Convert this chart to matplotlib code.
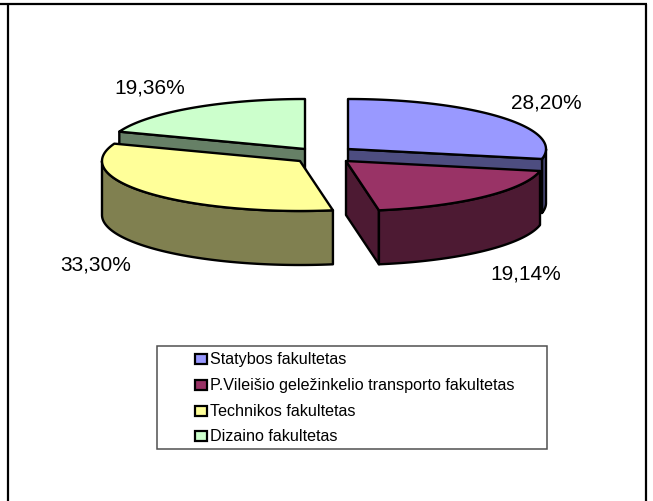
import numpy as np
import matplotlib.pyplot as plt
from matplotlib.patches import Polygon, Rectangle

plt.rcParams['font.family'] = ['Liberation Sans', 'DejaVu Sans']

categories = ['Statybos fakultetas', 'P.Vileišio geležinkelio transporto fakultetas',
              'Technikos fakultetas', 'Dizaino fakultetas']
values = [28.20, 19.14, 33.30, 19.36]
value_labels = ['28,20%', '19,14%', '33,30%', '19,36%']

top_colors = ['#9999FF', '#993366', '#FFFF99', '#CCFFCC']
side_colors = ['#4D4D80', '#4D1A33', '#808050', '#668066']

# exploded slice centres in pixels, one per slice
centers = [(348, 150), (346, 162), (300, 162), (305, 150)]
label_pos = [(546, 103), (526, 274), (96, 265), (150, 88)]
rx = 198
ry = 50
depth = 54
lw = 1.7

fig = plt.figure(figsize=(6.53, 5.02), dpi=100)
ax = fig.add_axes([0, 0, 1, 1])
ax.set_xlim(0, 653)
ax.set_ylim(502, 0)
ax.axis('off')

edges = np.cumsum([0] + values) / 100 * 2 * np.pi


def rim(c, a, b):
    t = np.linspace(a, b, 100)
    return np.column_stack((c[0] + rx * np.sin(t), c[1] - ry * np.cos(t)))


def poly(pts, color, z):
    ax.add_patch(Polygon(pts, closed=True, facecolor=color, edgecolor='black',
                         linewidth=lw, joinstyle='round', zorder=z))


def wall(pts, color, z):
    pts = np.asarray(pts, dtype=float)
    low = pts[::-1] + [0, depth]
    poly(np.vstack((pts, low)), color, z)


# back slices first, then the front ones over them
draw_order = [3, 0, 2, 1]
for z, i in enumerate(draw_order):
    c = centers[i]
    a, b = edges[i], edges[i + 1]
    z = z * 10 + 1
    arc = rim(c, a, b)
    if i == 3:
        wall([c, arc[0]], side_colors[i], z)
    if i == 0:
        wall(rim(c, np.pi / 2, b), side_colors[i], z)
        wall([c, arc[-1]], side_colors[i], z)
    if i == 1:
        wall([c, arc[-1]], side_colors[i], z)
        wall(arc, side_colors[i], z)
    if i == 2:
        wall(rim(c, a, 3 * np.pi / 2), side_colors[i], z)
    poly(np.vstack(([c], arc)), top_colors[i], z + 1)

for (x, y), s in zip(label_pos, value_labels):
    ax.text(x, y, s, fontsize=15, color='black', ha='center', va='center', zorder=60)

# legend box
ax.add_patch(Rectangle((157, 347), 390, 103, facecolor='white', edgecolor='#505050',
                       linewidth=1.1, zorder=60))
legend_y = [360, 386, 412, 437]
for y, name, col in zip(legend_y, categories, top_colors):
    ax.add_patch(Rectangle((195, y - 5), 12, 10, facecolor=col, edgecolor='black',
                           linewidth=1.6, zorder=61))
    ax.text(210, y, name, fontsize=11.6, color='black', ha='left', va='center', zorder=61)

# page frame around the chart
ax.plot([0, 647], [5, 5], color='black', lw=1.6, solid_capstyle='butt', zorder=70)
ax.plot([7.7, 7.7], [5, 502], color='black', lw=1.6, solid_capstyle='butt', zorder=70)
ax.plot([646, 646], [5, 502], color='black', lw=1.6, solid_capstyle='butt', zorder=70)

fig.savefig('out.png', dpi=100)
